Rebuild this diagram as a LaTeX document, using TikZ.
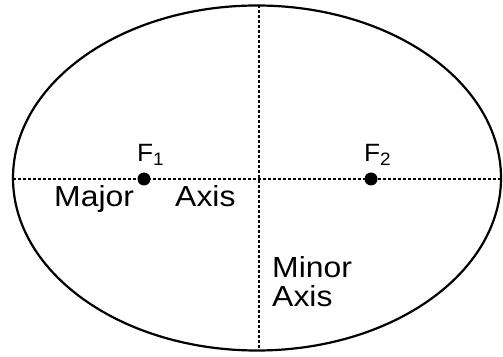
\documentclass[tikz,border=0pt]{standalone}
\usepackage{fontspec}
\setmainfont{Liberation Sans}
\usetikzlibrary{positioning}

\newcommand{\focsub}[1]{\raisebox{-0.3ex}{\fontsize{18}{20}\selectfont #1}}

\begin{document}
\begin{tikzpicture}[x=1pt,y=1pt,
    lbl/.style={font=\fontsize{29}{33}\selectfont, inner sep=0pt, xscale=1.1, transform shape},
    flbl/.style={font=\fontsize{25}{30}\selectfont, inner sep=0pt, xscale=1.05, transform shape},
    axisline/.style={line width=2.2pt, dash pattern=on 3pt off 2pt},
    focus/.style={circle, fill=black, inner sep=0pt, minimum size=13pt}]
    \useasboundingbox (0,0) rectangle (503,356);

    % Ellipse
    \draw[line width=2.2pt] (257,178) ellipse [x radius=244, y radius=172.5];

    % Axes
    \coordinate (left) at (13,177);
    \coordinate (right) at (501,177);
    \coordinate (top) at (259,351);
    \coordinate (bottom) at (259,6);
    \draw[axisline] (left) -- (right);
    \draw[axisline] (top) -- (bottom);

    % Foci
    \node[focus] (f1) at (144,177) {};
    \node[focus] (f2) at (371,177) {};
    \node[flbl, anchor=base west] (f1lbl) at (137,194) {F\focsub{1}};
    \node[flbl, anchor=base west] (f2lbl) at (364,194) {F\focsub{2}};

    % Labels
    \node[lbl, anchor=base west] (major) at (54,149) {Major};
    \node[lbl, anchor=base west] (majaxis) at (175,149) {Axis};
    \node[lbl, anchor=base west] (minor) at (272,78) {Minor};
    \node[lbl, anchor=base west] (minaxis) at (272,49) {Axis};
\end{tikzpicture}
\end{document}
